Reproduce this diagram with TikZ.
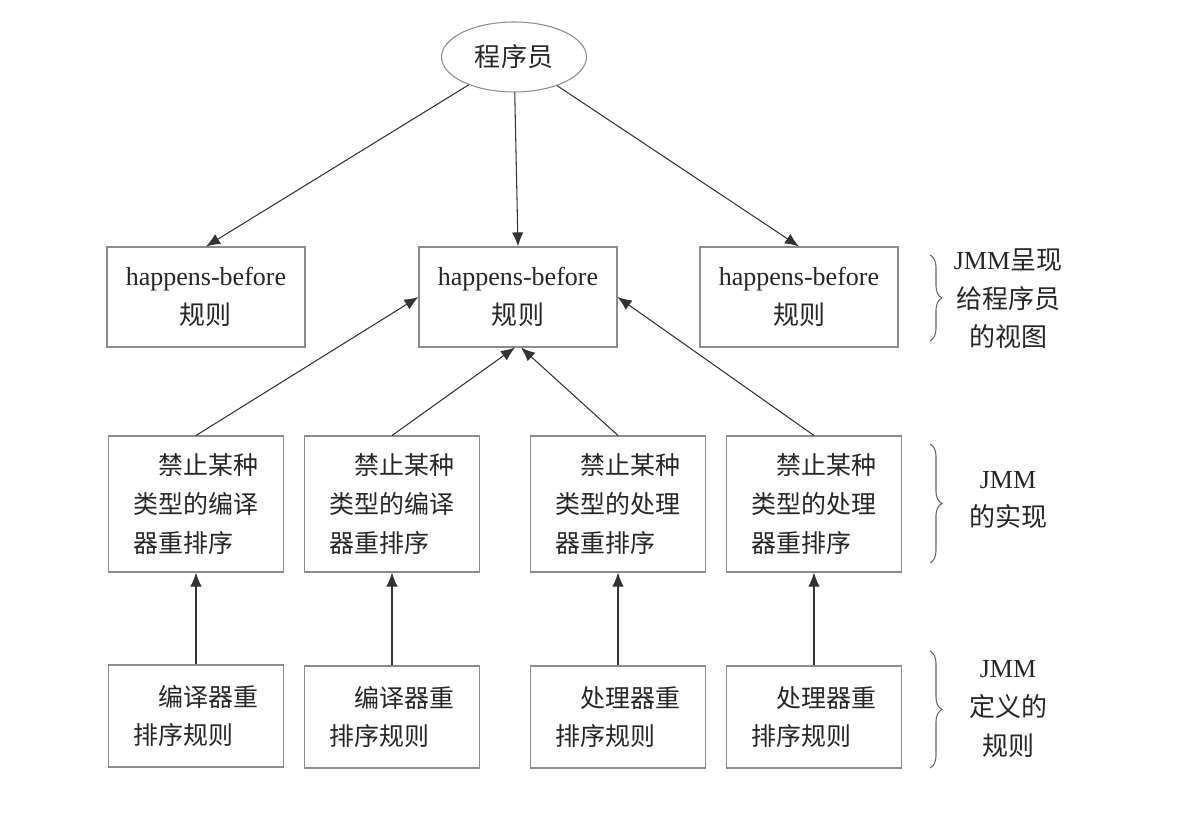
\documentclass[tikz,border=0pt]{standalone}
\usepackage{fontspec}
\setmainfont{Liberation Serif}
\newfontfamily\cjk{Noto Sans CJK SC}
\usepackage{tikz}
\usetikzlibrary{shapes.geometric,arrows.meta,decorations.pathreplacing}
\newcommand{\zh}[1]{{\cjk #1}}

\begin{document}
\begin{tikzpicture}[x=0.02cm,y=-0.02cm,>={Latex[length=8pt,width=6.5pt]},
        font=\fontsize{14.8}{22}\selectfont,
        line width=0.6pt,
        every node/.style={text=black!85},
        rulebox/.style={draw=black!45,minimum width=3.96cm,minimum height=2cm,align=center,inner sep=0pt},
        banbox/.style={draw=black!45,font=\fontsize{14.2}{22}\cjk,minimum width=3.5cm,minimum height=2.72cm,text width=2.5cm,align=left},
        defbox/.style={draw=black!45,font=\fontsize{14.2}{22}\cjk,minimum width=3.5cm,minimum height=2.04cm,text width=2.5cm,align=left},
        note/.style={align=center},
        link/.style={->,draw=black!80},
        bracket/.style={draw=black!60,decorate,decoration={brace,amplitude=0.24cm}},
        ]
\useasboundingbox (0,0) rectangle (1188,813);

% top
\node[ellipse,draw=black!45,minimum width=2.9cm,minimum height=1.4cm,inner sep=0pt] (prog) at (514,57) {\zh{程序员}};

\node[rulebox] (r1) at (206,297) {happens-before\\\zh{规则}};
\node[rulebox] (r2) at (518,297) {happens-before\\\zh{规则}};
\node[rulebox] (r3) at (799,297) {happens-before\\\zh{规则}};

% middle
\node[banbox] (b1) at (196,504) {\hspace*{1em}禁止某种\\类型的编译\\器重排序};
\node[banbox] (b2) at (392,504) {\hspace*{1em}禁止某种\\类型的编译\\器重排序};
\node[banbox] (b3) at (618,504) {\hspace*{1em}禁止某种\\类型的处理\\器重排序};
\node[banbox] (b4) at (814,504) {\hspace*{1em}禁止某种\\类型的处理\\器重排序};

% bottom
\node[defbox] (c1) at (196,716) {\hspace*{1em}编译器重\\排序规则};
\node[defbox] (c2) at (392,717) {\hspace*{1em}编译器重\\排序规则};
\node[defbox] (c3) at (618,717) {\hspace*{1em}处理器重\\排序规则};
\node[defbox] (c4) at (814,717) {\hspace*{1em}处理器重\\排序规则};

% arrows
\draw[link] (prog) -- (r1.north);
\draw[link] (prog) -- (r2.north);
\draw[link] (prog) -- (r3.north);
\draw[link] (b1.north) -- (r2.west);
\draw[link] (b2.north) -- ([xshift=-0.06cm]r2.south);
\draw[link] (b3.north) -- ([xshift=0.06cm]r2.south);
\draw[link] (b4.north) -- (r2.east);
\foreach \i in {1,...,4}
    \draw[link] (c\i.north) -- (b\i.south);

% braces
\coordinate (t1) at (930,255);
\coordinate (t2) at (930,341);
\coordinate (m1) at (930,444);
\coordinate (m2) at (930,563);
\coordinate (d1) at (930,651);
\coordinate (d2) at (930,768);
\draw[bracket] (t1) -- (t2);
\draw[bracket] (m1) -- (m2);
\draw[bracket] (d1) -- (d2);

\node[note] (viewlbl) at (1008,299) {JMM\zh{呈现}\\\zh{给程序员}\\\zh{的视图}};
\node[note] (impllbl) at (1008,500) {JMM\\\zh{的实现}};
\node[note] (deflbl) at (1008,709) {JMM\\\zh{定义的}\\\zh{规则}};
\end{tikzpicture}
\end{document}
